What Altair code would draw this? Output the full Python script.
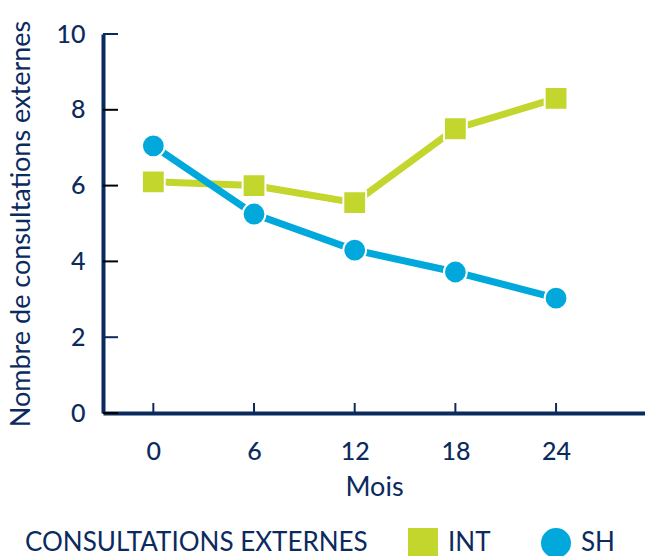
import altair as alt
import pandas as pd

months = [0, 6, 12, 18, 24]
int_values = [6.1, 6.0, 5.55, 7.5, 8.3]
sh_values = [7.05, 5.25, 4.3, 3.72, 3.03]
series_names = ["INT", "SH"]
y_ticks = [0, 2, 4, 6, 8, 10]
y_tick_colors = ["#000000", "#0b2a5e", "#000000", "#000000", "#000000", "#0b2a5e"]

NAVY = "#0b2a5e"
GREEN = "#c2d62e"
BLUE = "#00a8db"
FONT = "Lato"

rows = []
for m, v in zip(months, int_values):
    rows.append({"Mois": m, "val": v, "serie": "INT"})
for m, v in zip(months, sh_values):
    rows.append({"Mois": m, "val": v, "serie": "SH"})
df = pd.DataFrame(rows)

W, H = 542, 379

xscale = alt.Scale(domain=[-3, 29.3], nice=False, zero=False)
yscale = alt.Scale(domain=[0, 10], nice=False)
color = alt.Color("serie:N", scale=alt.Scale(domain=series_names, range=[GREEN, BLUE]),
                  legend=alt.Legend(title="CONSULTATIONS EXTERNES"))
shape = alt.Shape("serie:N", scale=alt.Scale(domain=series_names, range=["square", "circle"]),
                  legend=alt.Legend(title="CONSULTATIONS EXTERNES"))

x_enc = alt.X("Mois:Q", scale=xscale,
              axis=alt.Axis(title="Mois", values=months, tickSize=0, labelPadding=26,
                            grid=False, titlePadding=10))
y_enc = alt.Y("val:Q", scale=yscale,
              axis=alt.Axis(title="Nombre de consultations externes", values=y_ticks,
                            tickSize=0, labelPadding=18, grid=False, titlePadding=20))

base = alt.Chart(df)

line_int = base.transform_filter(alt.datum.serie == "INT").mark_line(strokeWidth=7, color=GREEN).encode(x=x_enc, y=y_enc)
line_sh = base.transform_filter(alt.datum.serie == "SH").mark_line(strokeWidth=7, color=BLUE).encode(x="Mois:Q", y="val:Q")

points = base.mark_point(filled=True, opacity=1, stroke="white", strokeWidth=2, size=520).encode(
    x="Mois:Q", y="val:Q", color=color, shape=shape
)

ytick_df = pd.DataFrame({"v": y_ticks, "c": y_tick_colors})
yticks = alt.Chart(ytick_df).mark_rule(strokeWidth=2).encode(
    y="v:Q", x=alt.value(0), x2=alt.value(15), stroke=alt.Stroke("c:N", scale=None, legend=None)
)
xtick_df = pd.DataFrame({"m": months})
xticks = alt.Chart(xtick_df).mark_rule(strokeWidth=2, color=NAVY).encode(
    x="m:Q", y=alt.value(H), y2=alt.value(H - 10)
)

chart = alt.layer(line_int, line_sh, yticks, xticks, points).properties(
    width=W, height=H,
    autosize=alt.AutoSizeParams(type="none"),
    padding={"left": 103, "top": 34, "right": 0, "bottom": 143},
).configure_view(stroke=None).configure_axis(
    domainColor=NAVY, domainWidth=4, labelColor=NAVY, titleColor=NAVY,
    labelFont=FONT, titleFont=FONT, labelFontSize=25, titleFontSize=27,
    titleFontWeight="normal", labelFontWeight=500,
).configure_legend(
    orient="none", legendX=-78, legendY=494, direction="horizontal",
    titleOrient="left", titleFont=FONT, labelFont=FONT, titleFontSize=26, labelFontSize=26,
    titleColor=NAVY, labelColor=NAVY, titleFontWeight="normal", symbolSize=900,
    symbolStrokeWidth=0, titlePadding=40, columnPadding=50, labelOffset=10,
    symbolOpacity=1, titleBaseline="middle", titleAnchor="middle", titleLimit=500
)

chart.save("out.html", embed_options={"renderer": "svg", "actions": False})
